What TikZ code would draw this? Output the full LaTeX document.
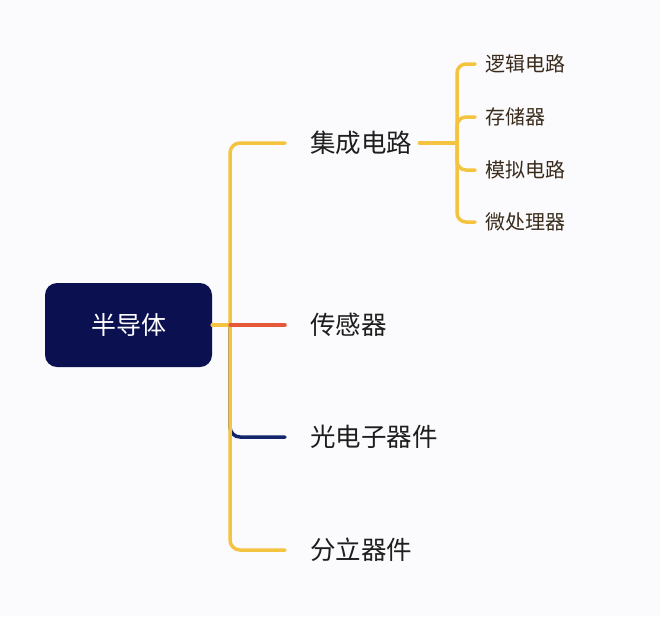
\documentclass[tikz,border=0pt]{standalone}
\usepackage{fontspec}
\newfontfamily\cjk{Noto Sans CJK SC}
\usetikzlibrary{positioning}
\definecolor{bgGray}{HTML}{FBFBFD}
\definecolor{rootNavy}{HTML}{0B1050}
\definecolor{lineYellow}{HTML}{F4C340}
\definecolor{lineRed}{HTML}{E5593A}
\definecolor{lineNavy}{HTML}{13256B}
\definecolor{mainText}{HTML}{1E1E1E}
\definecolor{subText}{HTML}{3A2C1C}
\begin{document}
\begin{tikzpicture}
[x=1pt,y=-1pt,
 rootDecorate/.style={shape=rectangle,rounded corners=12pt,fill=rootNavy,minimum width=167pt,minimum height=84pt,text=white,font=\cjk\fontsize{25}{25}\selectfont},
 mainDecorate/.style={anchor=west,inner sep=0pt,text=mainText,font=\cjk\fontsize{25.5}{26}\selectfont},
 subDecorate/.style={anchor=west,inner sep=0pt,text=subText,font=\cjk\fontsize{20}{20}\selectfont}]
\fill[bgGray] (0,0) rectangle (660,616);
\useasboundingbox (0,0) rectangle (660,616);
%% nodes
\node (root) at (128.5,325) [rootDecorate] {半导体};
\foreach \nodename/\y/\txt in {ic/143/集成电路, sensor/325/传感器, opto/437/光电子器件, discrete/550/分立器件}
{
  \node (\nodename) at (310,\y) [mainDecorate] {\txt};
}
\foreach \nodename/\y/\txt in {logic/64/逻辑电路, memory/117/存储器, analog/170/模拟电路, micro/222/微处理器}
{
  \node (\nodename) at (485,\y) [subDecorate] {\txt};
}
\coordinate (trunk) at (230,325);
\coordinate (subTrunk) at (457,143);
%% edges or lines
\tikzstyle{EdgeStyle}=[line width=3.5pt,line cap=round,rounded corners=10pt]
\draw[EdgeStyle,lineNavy] (trunk) |- ([xshift=-25pt]opto.west);
\draw[EdgeStyle,lineYellow] ([xshift=-25pt]ic.west) -| (trunk) |- ([xshift=-25pt]discrete.west);
\draw[EdgeStyle,lineYellow] (root.east) -- (trunk);
\draw[EdgeStyle,lineRed] (trunk) -- ([xshift=-25pt]sensor.west);
\draw[EdgeStyle,lineYellow] ([xshift=7pt]ic.east) -- (subTrunk);
\draw[EdgeStyle,lineYellow,rounded corners=9pt] ([xshift=-10pt]logic.west) -| (subTrunk) |- ([xshift=-10pt]micro.west);
\foreach \endnode in {memory, analog}
{
  \draw[EdgeStyle,lineYellow,rounded corners=9pt] (subTrunk) |- ([xshift=-10pt]\endnode.west);
}
\end{tikzpicture}
\end{document}
